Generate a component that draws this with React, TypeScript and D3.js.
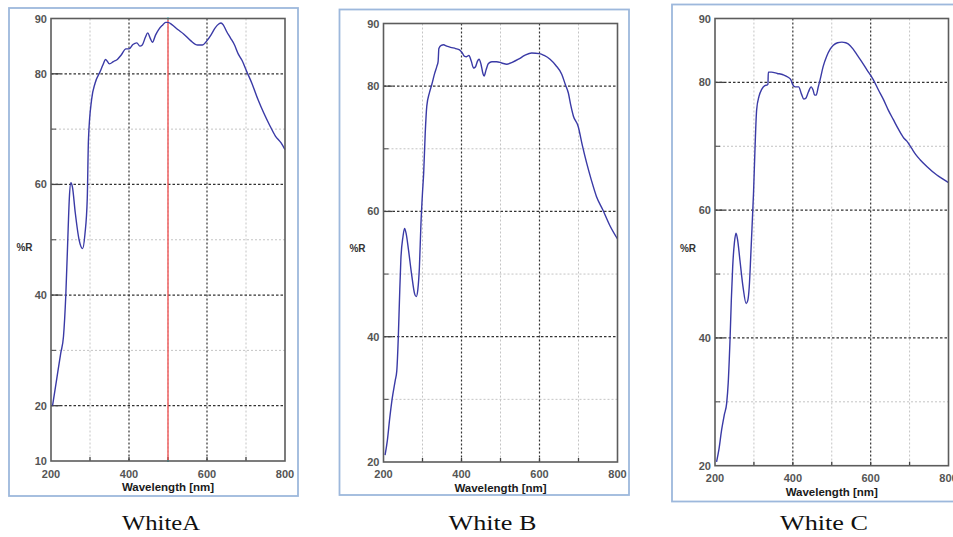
import React from "react";
import * as d3 from "d3";

// Reflectance spectra (%R vs wavelength in nm) for three white samples
const wavelengthA = [204, 215, 225, 232, 238, 244, 247, 251, 255, 262, 272, 281, 287, 293, 296, 304, 313, 326, 333, 340, 350, 360, 370, 380, 392, 400, 410, 420, 428, 434, 442, 448, 454, 460, 468, 476, 486, 494, 500, 510, 525, 540, 558, 576, 588, 600, 610, 620, 630, 636, 642, 650, 660, 670, 680, 690, 702, 715, 731, 745, 760, 775, 790, 800];
const reflectA = [20, 25, 29.5, 32.5, 40, 52, 57.5, 60.3, 59.5, 55, 50, 48.4, 51, 57.5, 68, 75.3, 78.3, 80.4, 81.6, 82.6, 81.8, 82.2, 82.6, 83.4, 84.5, 84.5, 85.3, 85.6, 85, 85.2, 86.6, 87.4, 86.5, 85.7, 87, 88, 88.8, 89.3, 89.3, 88.9, 88, 87.2, 86, 85.2, 85.2, 86, 87, 88.2, 89, 89.2, 88.8, 87.7, 86.5, 85.3, 83.6, 82.4, 80.4, 78.3, 75.3, 73, 70.8, 68.8, 67.5, 66.3];

const wavelengthB = [204, 210, 216, 222, 230, 234, 238, 241, 244.5, 250, 254, 258, 264, 272, 280, 284, 288, 292, 296, 300, 303, 307, 311, 318, 324, 331, 337, 340, 342, 348, 354, 362, 372, 385, 395, 402, 407, 413, 419, 425, 431, 436, 441, 445, 450, 455, 458, 463, 469, 478, 490, 503, 516, 530, 546, 562, 580, 600, 612, 627, 642, 657, 666, 674, 680, 687, 699, 710, 721, 733, 746, 762, 780, 800];
const reflectB = [21.1, 23.5, 27, 30, 33, 34.5, 40, 46, 52.3, 56, 57.3, 56.5, 53.9, 50, 46.8, 46.4, 47.5, 51, 58, 63, 66.1, 72.5, 76.8, 79, 80.3, 82, 83.2, 83.9, 86, 86.5, 86.6, 86.4, 86.2, 86, 85.8, 85.3, 84.8, 84.7, 84.9, 84, 82.9, 83.1, 84, 84.3, 83.5, 82, 81.6, 82.6, 83.6, 83.9, 83.9, 83.7, 83.5, 83.8, 84.3, 84.9, 85.3, 85.2, 84.9, 84.3, 83.3, 81.9, 80.3, 78.9, 77, 75.2, 73.6, 70.5, 67.7, 65, 62.4, 60.3, 57.8, 55.6];

const wavelengthC = [204, 210, 217, 224, 230, 234, 238.6, 242, 245.5, 250, 254, 258, 264, 272, 280, 284, 288, 292, 296, 299, 303, 307, 313, 320, 328, 334.5, 336, 337, 345, 360, 375, 388, 395, 400, 406, 415, 422, 428, 433, 440, 447, 452, 456, 460, 465, 470, 478, 487, 496, 504, 515, 526, 536, 543, 555, 565, 573, 590, 607, 620, 633, 645, 658, 672, 685, 693, 705, 716, 727, 745, 770, 785, 800];
const reflectC = [20.6, 22.5, 25.6, 28, 29.8, 33, 39.7, 46, 51.2, 55, 56.4, 55.4, 52.2, 48, 45.4, 45.8, 48, 53, 58.5, 62.7, 70, 75.7, 77.8, 78.9, 79.5, 79.6, 79.7, 81.6, 81.6, 81.4, 81.2, 80.8, 80.4, 79.6, 79.3, 79.3, 78.2, 77.4, 77.5, 78.5, 79.3, 78.8, 78, 78, 79.2, 80.4, 82.5, 84.1, 85.2, 85.8, 86.2, 86.3, 86.2, 86, 85.2, 84.3, 83.6, 82, 80.4, 78.8, 77.3, 75.7, 74.2, 72.6, 71.3, 70.8, 69.7, 68.7, 67.9, 66.8, 65.5, 64.9, 64.3];

const xMajorTicks = [200, 400, 600, 800];
const xMinorTicks = [300, 500, 700];
const yLabelsA = [10, 20, 40, 60, 80, 90];
const yLabelsBC = [20, 40, 60, 80, 90];
const yMajorGrid = [20, 40, 60, 80];
const yMinorGrid = [30, 50, 70];
const captions = ["WhiteA", "White B", "White C"];
const markerWavelengthA = 500;

type Box = { x0: number; y0: number; x1: number; y1: number };

type PanelProps = {
  frame: Box;
  plot: Box;
  yMin: number;
  yLabels: number[];
  wl: number[];
  refl: number[];
  xLabelBase: number;
  titleBase: number;
  rLabel: [number, number];
  marker?: number;
};

const SANS = "'Liberation Sans', Arial, sans-serif";

function Panel({ frame, plot, yMin, yLabels, wl, refl, xLabelBase, titleBase, rLabel, marker }: PanelProps) {
  const x = d3.scaleLinear().domain([200, 800]).range([plot.x0, plot.x1]);
  const y = d3.scaleLinear().domain([yMin, 90]).range([plot.y1, plot.y0]);
  const pts: [number, number][] = wl.map((w, i) => [w, refl[i]]);
  const line = d3
    .line<[number, number]>()
    .x((d) => x(d[0]))
    .y((d) => y(d[1]))
    .curve(d3.curveMonotoneX);

  const majorY = yMajorGrid.filter((v) => v > yMin && v < 90);
  const minorY = yMinorGrid.filter((v) => v > yMin && v < 90);
  const innerMajorX = xMajorTicks.filter((v) => v > 200 && v < 800);

  return (
    <g>
      <rect
        x={frame.x0}
        y={frame.y0}
        width={frame.x1 - frame.x0}
        height={frame.y1 - frame.y0}
        fill="#ffffff"
        stroke="#9db8dc"
        strokeWidth={1.8}
      />
      {/* minor grid */}
      {xMinorTicks.map((v) => (
        <line key={"xm" + v} x1={x(v)} x2={x(v)} y1={plot.y0} y2={plot.y1} stroke="#c4c4c4" strokeWidth={1} strokeDasharray="2,2" />
      ))}
      {minorY.map((v) => (
        <line key={"ym" + v} x1={plot.x0} x2={plot.x1} y1={y(v)} y2={y(v)} stroke="#c4c4c4" strokeWidth={1} strokeDasharray="2,2" />
      ))}
      {/* major grid */}
      {innerMajorX.map((v) => (
        <line key={"xM" + v} x1={x(v)} x2={x(v)} y1={plot.y0} y2={plot.y1} stroke="#333" strokeWidth={1.2} strokeDasharray="2,2" />
      ))}
      {majorY.map((v) => (
        <line key={"yM" + v} x1={plot.x0} x2={plot.x1} y1={y(v)} y2={y(v)} stroke="#333" strokeWidth={1.2} strokeDasharray="2.5,2" />
      ))}
      {/* inner ticks */}
      {majorY.map((v) => (
        <line key={"yt" + v} x1={plot.x0} x2={plot.x0 + 9} y1={y(v)} y2={y(v)} stroke="#444" strokeWidth={1.3} />
      ))}
      {minorY.map((v) => (
        <line key={"ymt" + v} x1={plot.x0} x2={plot.x0 + 5} y1={y(v)} y2={y(v)} stroke="#555" strokeWidth={1.1} />
      ))}
      {[...innerMajorX, ...xMinorTicks].map((v) => (
        <line key={"xt" + v} x1={x(v)} x2={x(v)} y1={plot.y1} y2={plot.y1 - 4} stroke="#444" strokeWidth={1.3} />
      ))}
      {marker !== undefined && (
        <g>
          <line x1={x(marker)} x2={x(marker)} y1={plot.y0} y2={plot.y1} stroke="#ee4b4b" strokeWidth={1.3} />
          <rect x={x(marker) - 1} y={plot.y0 - 1} width={2} height={2} fill="#3fd6e0" />
          <rect x={x(marker) - 1} y={plot.y1 - 1} width={2} height={2} fill="#3fd6e0" />
        </g>
      )}
      <path d={line(pts) ?? ""} fill="none" stroke="#3a3aa6" strokeWidth={1.4} strokeLinejoin="round" />
      <rect
        x={plot.x0}
        y={plot.y0}
        width={plot.x1 - plot.x0}
        height={plot.y1 - plot.y0}
        fill="none"
        stroke="#5c5c5c"
        strokeWidth={1.6}
      />
      {/* y tick labels */}
      {yLabels.map((v) => (
        <text
          key={"yl" + v}
          x={plot.x0 - 4}
          y={y(v) + 4}
          textAnchor="end"
          fontFamily={SANS}
          fontSize={11}
          fontWeight="bold"
          fill="#555"
        >
          {v}
        </text>
      ))}
      {/* x tick labels */}
      {xMajorTicks.map((v) => (
        <text
          key={"xl" + v}
          x={x(v)}
          y={xLabelBase}
          textAnchor="middle"
          fontFamily={SANS}
          fontSize={11}
          fontWeight="bold"
          fill="#555"
        >
          {v}
        </text>
      ))}
      <text
        x={(plot.x0 + plot.x1) / 2}
        y={titleBase}
        textAnchor="middle"
        fontFamily={SANS}
        fontSize={11.5}
        fontWeight="bold"
        fill="#1a1a1a"
      >
        Wavelength [nm]
      </text>
      <text x={rLabel[0]} y={rLabel[1]} textAnchor="middle" fontFamily={SANS} fontSize={10} fontWeight="bold" fill="#333">
        %R
      </text>
    </g>
  );
}

export default function App() {
  const captionX = [161, 492.5, 824];
  const captionW = [78, 88, 88];
  return (
    <svg
      width={953}
      height={537}
      viewBox="0 0 953 537"
      style={{ position: "absolute", left: 0, top: 0, background: "#fff" }}
    >
      <rect x={0} y={0} width={953} height={537} fill="#fff" />
      <Panel
        frame={{ x0: 9, y0: 8, x1: 298, y1: 496 }}
        plot={{ x0: 51, y0: 18.5, x1: 285, y1: 461 }}
        yMin={10}
        yLabels={yLabelsA}
        wl={wavelengthA}
        refl={reflectA}
        xLabelBase={477.5}
        titleBase={491}
        rLabel={[24.5, 251]}
        marker={markerWavelengthA}
      />
      <Panel
        frame={{ x0: 339.5, y0: 9.5, x1: 629, y1: 495 }}
        plot={{ x0: 383.5, y0: 23.5, x1: 617.5, y1: 462 }}
        yMin={20}
        yLabels={yLabelsBC}
        wl={wavelengthB}
        refl={reflectB}
        xLabelBase={478}
        titleBase={491.5}
        rLabel={[357.5, 252]}
      />
      <Panel
        frame={{ x0: 672, y0: 4.5, x1: 962, y1: 501.5 }}
        plot={{ x0: 715, y0: 18.5, x1: 948.5, y1: 465.7 }}
        yMin={20}
        yLabels={yLabelsBC}
        wl={wavelengthC}
        refl={reflectC}
        xLabelBase={482}
        titleBase={495.5}
        rLabel={[688, 252]}
      />
      {captions.map((c, i) => (
        <text
          key={c}
          x={captionX[i]}
          y={530}
          textAnchor="middle"
          fontFamily="'Liberation Serif', 'DejaVu Serif', serif"
          fontSize={22}
          fill="#111"
          textLength={captionW[i]}
          lengthAdjust="spacingAndGlyphs"
        >
          {c}
        </text>
      ))}
    </svg>
  );
}
